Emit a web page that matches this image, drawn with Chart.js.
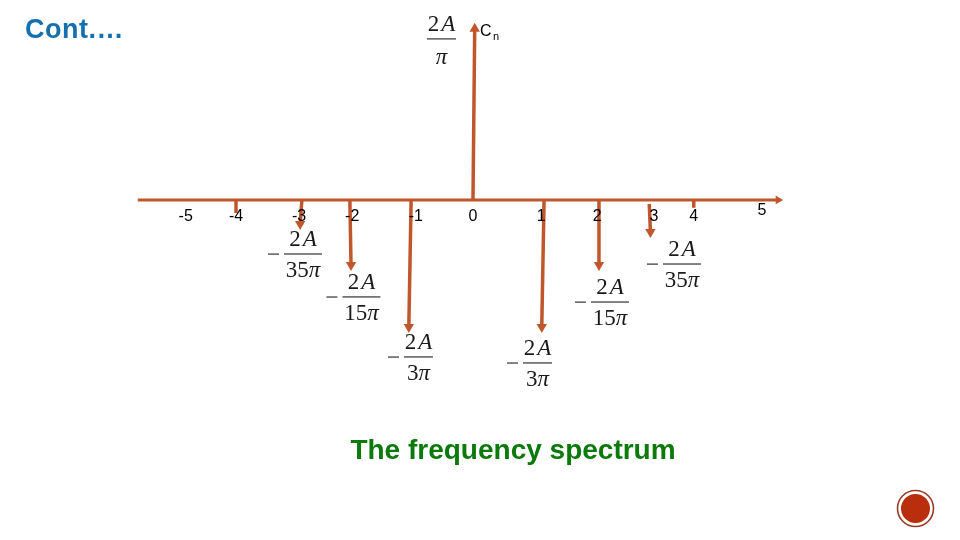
<!DOCTYPE html>
<html><head><meta charset="utf-8">
<style>html,body{margin:0;padding:0;background:#fff}canvas{display:block}</style>
<script src="https://cdn.jsdelivr.net/npm/chart.js@4"></script></head>
<body><canvas id="c" width="960" height="540"></canvas>
<script>
// harmonic stems: position at the axis, position at the tip, start and tip values
const stemBaseX  = [-4.10,-2.96,-2.13,-1.07, 0.00, 1.23, 2.18, 3.05, 3.82];
const stemTipX   = [-4.10,-2.99,-2.11,-1.11, 0.03, 1.19, 2.18, 3.07, 3.82];
const stemStart  = [0,0,0,0,0,0,0,-0.023,0];
const stemTip    = [-0.074,-0.137,-0.37,-0.722,0.972,-0.722,-0.37,-0.182,-0.045];
const stemArrow  = [false,true,true,true,true,true,true,true,false];
// tick labels
const tickLabels = ['-5','-4','-3','-2','-1','0','1','2','3','4','5'];
const tickX      = [-4.97,-4.10,-3.01,-2.09,-0.99,0,1.18,2.15,3.13,3.82,5.0];
const tickY      = [-0.085,-0.085,-0.085,-0.085,-0.085,-0.085,-0.085,-0.085,-0.085,-0.085,-0.051];
// amplitude fractions
const fracDen  = ['35','15','3','','3','15','35'];
const fracNeg  = [true,true,true,false,true,true,true];
const fracX    = [-2.94,-1.93,-0.943,-0.545,1.116,2.37,3.616];
const fracY    = [-0.307,-0.551,-0.892,0.915,-0.926,-0.58,-0.364];
const axisX    = [-5.80,5.28];

const STEM='#c0562b', SANS='"Liberation Sans",Arial,sans-serif', SERIF='"Liberation Serif",serif';

const datasets=[{
  data:[{x:axisX[0],y:0},{x:axisX[1],y:0}],
  borderColor:STEM,backgroundColor:STEM,borderWidth:3,showLine:true,
  pointRadius:[0,5],pointStyle:'triangle',rotation:[0,90],pointBorderWidth:0
}];
stemTip.forEach((v,i)=>datasets.push({
  data:[{x:stemBaseX[i],y:stemStart[i]},{x:stemTipX[i],y:v}],
  borderColor:STEM,backgroundColor:STEM,borderWidth:3.5,showLine:true,
  pointRadius:[0,stemArrow[i]?6:0],pointStyle:'triangle',
  rotation:[0,v<0?180:0],pointBorderWidth:0
}));

function mixed(g,parts,cx,y,gap){
  let w=0;parts.forEach(p=>{g.font=p[1];w+=g.measureText(p[0]).width;});
  w+=gap*(parts.length-1);
  let x=cx-w/2;g.textAlign='left';
  parts.forEach(p=>{g.font=p[1];g.fillText(p[0],x,y);x+=g.measureText(p[0]).width+gap;});
}

const annot={id:'annot',afterDatasetsDraw(ch){
  const g=ch.ctx,sx=ch.scales.x,sy=ch.scales.y;
  g.save();g.textBaseline='middle';g.textAlign='center';g.fillStyle='#000';
  g.font='16px '+SANS;
  tickLabels.forEach((t,i)=>g.fillText(t,sx.getPixelForValue(tickX[i]),sy.getPixelForValue(tickY[i])+1.5));
  // c_n
  g.textAlign='left';g.font='16px '+SANS;g.fillText('C',480,32);
  g.font='11px '+SANS;g.fillText('n',493,37);
  // fractions
  const up='23px '+SERIF,it='italic 23px '+SERIF;
  fracDen.forEach((d,i)=>{
    const x=sx.getPixelForValue(fracX[i]),y=sy.getPixelForValue(fracY[i]);
    const w=d.length>1?38:29;
    g.fillStyle='#333';g.fillRect(x-w/2,y-0.6,w,1.2);
    if(fracNeg[i])g.fillRect(x-w/2-16,y-0.5,11,1.2);
    g.fillStyle='#1a1a1a';
    mixed(g,[['2',up],['A',it]],x,y-14,2);
    mixed(g,d?[[d,up],['π',it]]:[['π',it]],x,y+(d?17:19),0);
  });
  // title & caption
  g.textAlign='left';g.fillStyle='#1570b0';g.font='bold 27px '+SANS;
  g.letterSpacing='0.5px';g.fillText('Cont.…',25,31);g.letterSpacing='0px';
  g.textAlign='center';g.fillStyle='#0b7a0b';g.font='bold 28px '+SANS;g.fillText('The frequency spectrum',513,451);
  // page badge
  g.strokeStyle='#9a3a22';g.lineWidth=1.6;g.beginPath();g.arc(915.5,508.5,18,0,7);g.stroke();
  g.fillStyle='#b92f0e';g.beginPath();g.arc(915.5,508.5,14.5,0,7);g.fill();
  g.restore();
}};

new Chart(document.getElementById('c'),{
  type:'scatter',
  data:{datasets},
  options:{
    responsive:false,animation:false,
    layout:{padding:0,autoPadding:false},
    plugins:{legend:{display:false},tooltip:{enabled:false},title:{display:false}},
    scales:{
      x:{type:'linear',display:false,min:-8.183,max:8.426},
      y:{type:'linear',display:false,min:-1.932,max:1.136}
    }
  },
  plugins:[annot]
});
</script></body></html>
